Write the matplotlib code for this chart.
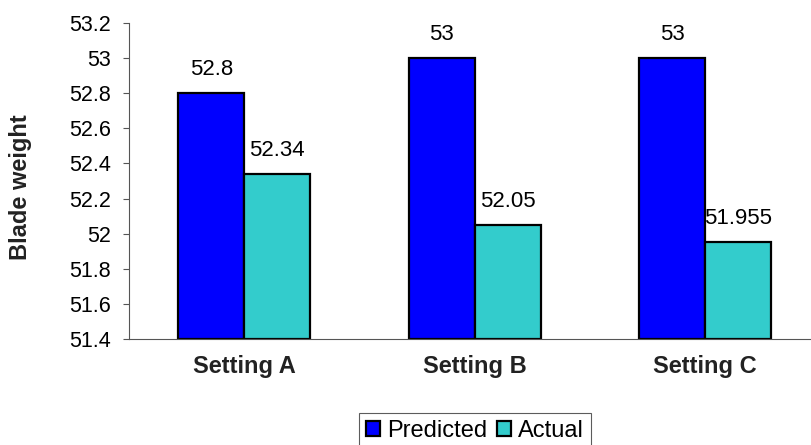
import matplotlib
matplotlib.use("Agg")
import matplotlib.pyplot as plt
import numpy as np

plt.rcParams['font.family'] = ['Liberation Sans', 'DejaVu Sans']

categories = ["Setting A", "Setting B", "Setting C"]
predicted = [52.8, 53.0, 53.0]
actual = [52.34, 52.05, 51.955]
pred_labels = ["52.8", "53", "53"]
act_labels = ["52.34", "52.05", "51.955"]
yticks = [51.4, 51.6, 51.8, 52.0, 52.2, 52.4, 52.6, 52.8, 53.0, 53.2]
ytick_labels = ["51.4", "51.6", "51.8", "52", "52.2", "52.4", "52.6", "52.8", "53", "53.2"]

fig = plt.figure(figsize=(8.11, 4.45), dpi=100)
ax = fig.add_axes([129/811, 106/445, 691.5/811, 316/445])

x = np.arange(len(categories))
w = 0.286
base = 51.4
b1 = ax.bar(x - w/2, np.array(predicted) - base, w, bottom=base, color='#0000FF',
            edgecolor='black', linewidth=1.6, label='Predicted')
b2 = ax.bar(x + w/2, np.array(actual) - base, w, bottom=base, color='#33CCCC',
            edgecolor='black', linewidth=1.6, label='Actual')

for xi, v, t in zip(x - w/2, predicted, pred_labels):
    ax.annotate(t, (xi, v), xytext=(0, 13), textcoords='offset points',
                ha='center', va='baseline', fontsize=16)
for xi, v, t in zip(x + w/2, actual, act_labels):
    ax.annotate(t, (xi, v), xytext=(0, 13), textcoords='offset points',
                ha='center', va='baseline', fontsize=16)

ax.set_xlim(-0.5, 2.5)
ax.set_ylim(51.4, 53.2)
ax.set_yticks(yticks)
ax.set_yticklabels(ytick_labels, fontsize=15.5)
ax.set_xticks(x)
ax.set_xticklabels(categories, fontsize=17, fontweight='bold', color='#222222')
ax.tick_params(axis='x', length=0, pad=11.5)
ax.tick_params(axis='y', length=4.5, width=0.8, color='#555555', pad=8.5)
ax.set_ylabel("Blade weight", fontsize=17, fontweight='bold', color='#222222')
ax.yaxis.set_label_coords(-0.140, 0.48)

for s in ['top', 'right']:
    ax.spines[s].set_visible(False)
ax.spines['left'].set_color('#555555')
ax.spines['bottom'].set_color('#555555')
ax.spines['left'].set_linewidth(0.8)
ax.spines['bottom'].set_linewidth(0.8)

leg = fig.legend(handles=[b1, b2], labels=['Predicted', 'Actual'], loc='upper center',
                 bbox_to_anchor=(475/811, 1 - 413/445), ncol=2, fontsize=17,
                 frameon=True, fancybox=False, edgecolor='#333333', handlelength=0.59,
                 handleheight=0.59, handletextpad=0.3, columnspacing=0.38,
                 borderpad=0.3, borderaxespad=0)
leg.get_frame().set_linewidth(0.8)
for p in leg.get_patches():
    p.set_linewidth(1.6)

fig.savefig("out.png", dpi=100)
